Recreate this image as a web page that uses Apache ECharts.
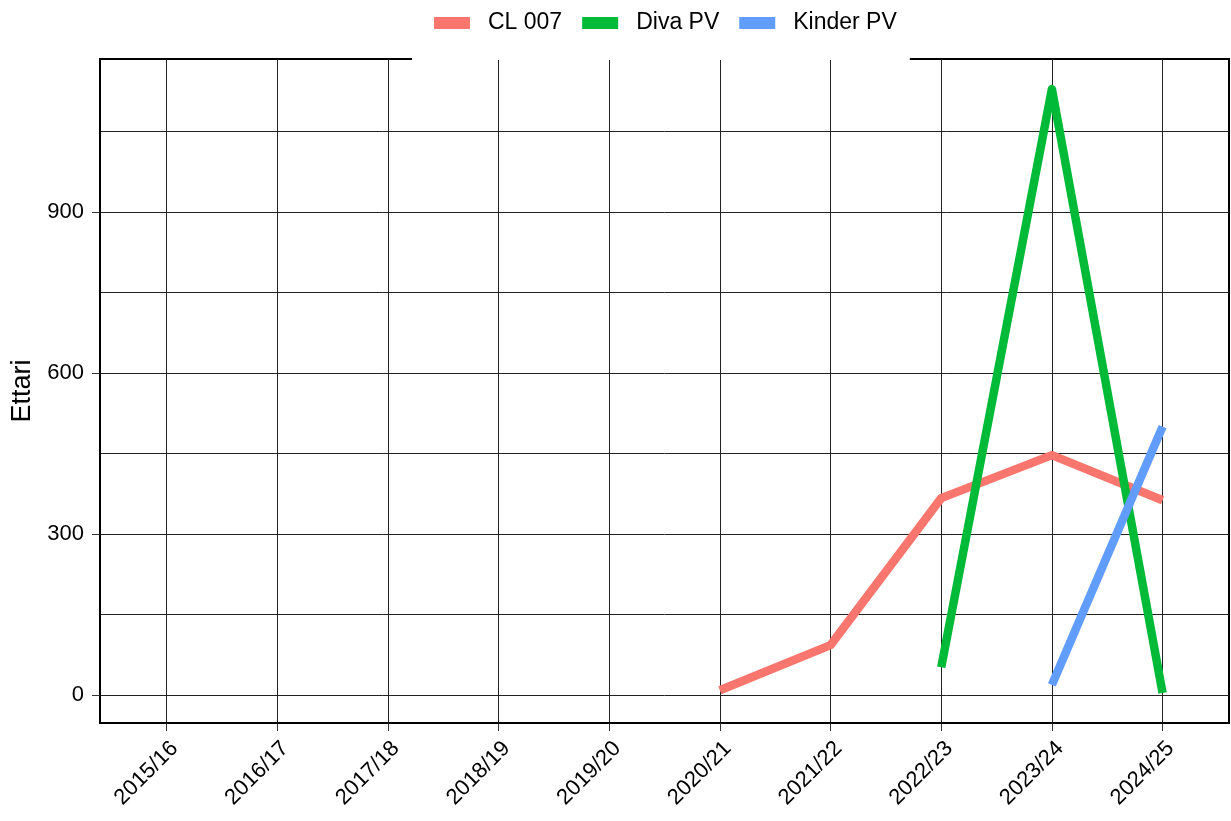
<!DOCTYPE html>
<html>
<head>
<meta charset="utf-8">
<script src="https://cdn.jsdelivr.net/npm/echarts@6/dist/echarts.min.js"></script>
</head>
<body style="margin:0">
<div id="container" style="width:1231px;height:821px"></div>
<script>
var categories = ['2015/16', '2016/17', '2017/18', '2018/19', '2019/20',
                  '2020/21', '2021/22', '2022/23', '2023/24', '2024/25'];
var cl007   = [null, null, null, null, null, 9, 93, 367, 447, 363];
var divaPV  = [null, null, null, null, null, null, null, 52, 1129, 4];
var kinderPV = [null, null, null, null, null, null, null, null, 19, 500];
var yLabels = [0, 300, 600, 900];
var yGrid = [0, 150, 300, 450, 600, 750, 900, 1050];
var xIdx = categories.map(function (c, i) { return i; });

// axis ranges (ggplot-like expansion) and plot panel box
var X_MIN = -0.6, X_MAX = 9.6, Y_MIN = -52, Y_MAX = 1185;
var L = 100, R = 2, T = 59, B = 98, W = 1231 - L - R, H = 821 - T - B;

function pairs(arr) {
    var out = [];
    arr.forEach(function (v, i) { if (v != null) out.push([i, v]); });
    return out;
}

var font = 'Liberation Sans, Arial, sans-serif';
var chart = echarts.init(document.getElementById('container'));

function line(name, color, arr) {
    return {
        name: name, type: 'line', data: pairs(arr),
        showSymbol: false, symbol: 'none',
        lineStyle: { color: color, width: 8.5, cap: 'butt', join: 'round' },
        itemStyle: { color: color },
        emphasis: { disabled: true }
    };
}

// helper grids used only to place the outer tick marks on the real breaks
var xLast = categories.length - 1;
var yTop = yLabels[yLabels.length - 1];
var gridXTicks = {
    left: L + (0 - X_MIN) / (X_MAX - X_MIN) * W,
    right: R + (X_MAX - xLast) / (X_MAX - X_MIN) * W,
    top: T, bottom: B, containLabel: false, outerBoundsMode: 'none'
};
var gridYTicks = {
    left: L, right: R,
    top: T + (Y_MAX - yTop) / (Y_MAX - Y_MIN) * H,
    bottom: B + (yLabels[0] - Y_MIN) / (Y_MAX - Y_MIN) * H,
    containLabel: false, outerBoundsMode: 'none'
};
function tickAxis(min, max, interval, gridIndex) {
    return {
        type: 'value', min: min, max: max, interval: interval, gridIndex: gridIndex,
        axisLine: { show: true, onZero: false, lineStyle: { color: '#000', width: 2 } },
        axisTick: { show: true, length: 8, lineStyle: { color: '#333', width: 1 } },
        axisLabel: { show: false }, splitLine: { show: false }
    };
}
// invisible copy so the helper axes are not treated as blank
function ghost(xi, yi) {
    return {
        type: 'line', data: pairs(cl007), xAxisIndex: xi, yAxisIndex: yi,
        showSymbol: false, symbol: 'none', silent: true,
        lineStyle: { opacity: 0, width: 0 }, emphasis: { disabled: true }
    };
}

var option = {
    animation: false,
    grid: [{
        left: L, right: R, top: T, bottom: B,
        containLabel: false, outerBoundsMode: 'none',
        show: true, borderColor: '#000', borderWidth: 2, backgroundColor: 'transparent'
    }, gridXTicks, gridYTicks],
    legend: {
        top: 0, left: 412,
        padding: [11, 13, 25, 22],
        backgroundColor: '#fff',
        itemWidth: 36, itemHeight: 12, itemGap: 20,
        icon: 'rect',
        textStyle: { fontFamily: font, fontSize: 23, color: '#000', lineHeight: 24, padding: [0, 0, 0, 13] },
        data: ['CL 007', 'Diva PV', 'Kinder PV']
    },
    xAxis: [{
        type: 'value', min: X_MIN, max: X_MAX, gridIndex: 0,
        axisLine: { show: true, onZero: false, lineStyle: { color: '#000', width: 2 } },
        axisTick: { show: false, customValues: xIdx },
        axisLabel: {
            customValues: xIdx,
            formatter: function (v) { return categories[Math.round(v)]; },
            rotate: 45, margin: 14, verticalAlign: 'top', lineHeight: 23,
            fontFamily: font, fontSize: 22, color: '#000'
        },
        splitLine: { show: true, lineStyle: { color: '#222', width: 1 } }
    },
    tickAxis(0, xLast, 1, 1),
    { type: 'value', gridIndex: 2, show: false }],
    yAxis: [{
        type: 'value', min: Y_MIN, max: Y_MAX, gridIndex: 0,
        name: 'Ettari', nameLocation: 'middle', nameGap: 57,
        nameTextStyle: { fontFamily: font, fontSize: 27, color: '#000' },
        axisLine: { show: true, onZero: false, lineStyle: { color: '#000', width: 2 } },
        axisTick: { show: false, customValues: yGrid },
        axisLabel: {
            customValues: yLabels,
            margin: 16, fontFamily: font, fontSize: 22, color: '#000'
        },
        splitLine: { show: true, lineStyle: { color: '#222', width: 1 } }
    },
    { type: 'value', gridIndex: 1, show: false },
    tickAxis(yLabels[0], yTop, 300, 2)],
    series: [
        line('CL 007', '#F8766D', cl007),
        line('Diva PV', '#00BA38', divaPV),
        line('Kinder PV', '#619CFF', kinderPV),
        ghost(1, 1),
        ghost(2, 2)
    ]
};
chart.setOption(option);
</script>
</body>
</html>
